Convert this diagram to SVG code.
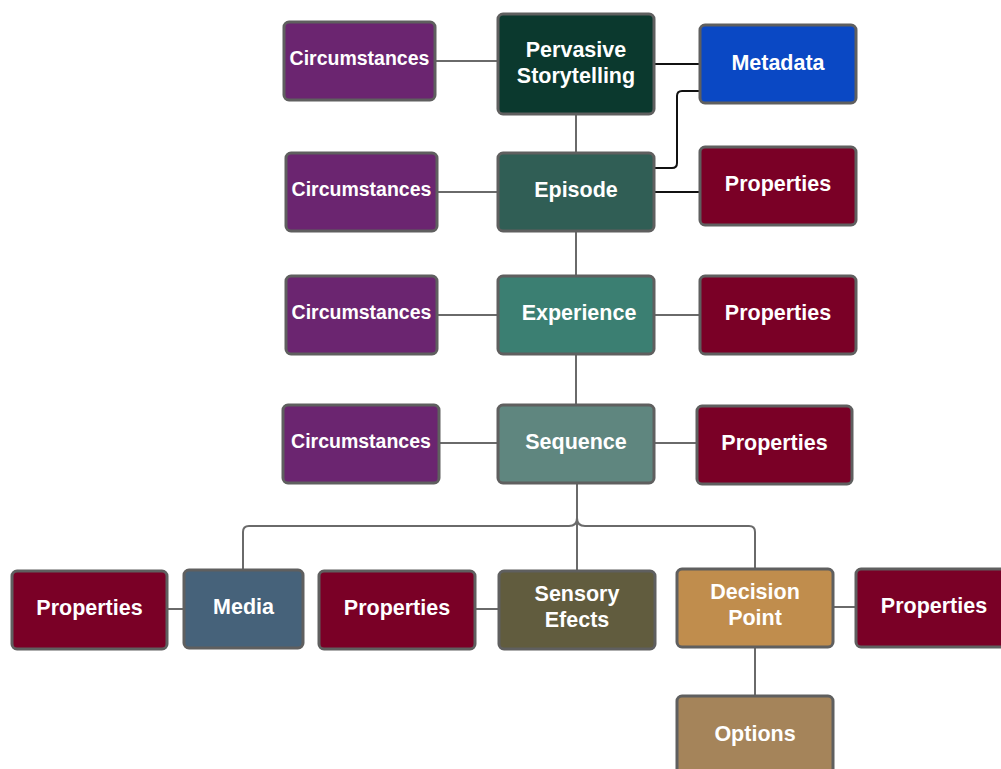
<svg xmlns="http://www.w3.org/2000/svg" width="1001" height="769" viewBox="0 0 1001 769">
  <style>
    .box { stroke: #5f5f5f; stroke-width: 3; }
    .lbl { font-family: "Liberation Sans", Arial, sans-serif; font-weight: bold; fill: #ffffff; text-anchor: middle; dominant-baseline: central; font-size: 21.5px; }
    .sm { font-size: 19.5px; }
    .wire { fill: none; stroke: #6a6a6a; stroke-width: 2; }
    .dark { fill: none; stroke: #111111; stroke-width: 2; }
    .circ { fill: #6b2570; }
    .prop { fill: #7a0026; }
  </style>
  <rect width="1001" height="769" fill="#ffffff"/>

  <!-- connectors -->
  <g id="connectors">
    <path class="wire" d="M435 61 H498"/>
    <path class="dark" d="M654 64 H700"/>
    <path class="dark" d="M654 168 H672 Q677 168 677 163 V96 Q677 91 682 91 H700"/>
    <path class="wire" d="M576 114 V153"/>
    <path class="wire" d="M437 192 H498"/>
    <path class="dark" d="M654 192 H700"/>
    <path class="wire" d="M576 231 V276"/>
    <path class="wire" d="M437 315 H498"/>
    <path class="wire" d="M654 315 H700"/>
    <path class="wire" d="M576 354 V405"/>
    <path class="wire" d="M439 443 H498"/>
    <path class="wire" d="M654 443 H697"/>
    <path class="wire" d="M577 483 V571"/>
    <path class="wire" d="M577 518 Q577 526 569 526 H249 Q243 526 243 532 V570"/>
    <path class="wire" d="M577 518 Q577 526 585 526 H749 Q755 526 755 532 V569"/>
    <path class="wire" d="M167 609 H184"/>
    <path class="wire" d="M475 609 H499"/>
    <path class="wire" d="M833 607 H856"/>
    <path class="wire" d="M755 647 V696"/>
  </g>

  <g id="pervasive">
    <rect class="box" x="498" y="14" width="156" height="100" rx="5" fill="#0b392e"/>
    <text class="lbl" x="576" y="50">Pervasive</text>
    <text class="lbl" x="576" y="76">Storytelling</text>
  </g>
  <g id="metadata">
    <rect class="box" x="700" y="25" width="156" height="78" rx="5" fill="#0a48c4"/>
    <text class="lbl" x="778" y="63">Metadata</text>
  </g>
  <g id="circ1">
    <rect class="box circ" x="284" y="22" width="151" height="78" rx="5"/>
    <text class="lbl sm" x="359.5" y="58">Circumstances</text>
  </g>

  <g id="episode">
    <rect class="box" x="498" y="153" width="156" height="78" rx="5" fill="#305e55"/>
    <text class="lbl" x="576" y="190">Episode</text>
  </g>
  <g id="circ2">
    <rect class="box circ" x="286" y="153" width="151" height="78" rx="5"/>
    <text class="lbl sm" x="361.5" y="189">Circumstances</text>
  </g>
  <g id="prop1">
    <rect class="box prop" x="700" y="147" width="156" height="78" rx="5"/>
    <text class="lbl" x="778" y="184">Properties</text>
  </g>

  <g id="experience">
    <rect class="box" x="498" y="276" width="156" height="78" rx="5" fill="#3b7f72"/>
    <text class="lbl" x="579" y="313">Experience</text>
  </g>
  <g id="circ3">
    <rect class="box circ" x="286" y="276" width="151" height="78" rx="5"/>
    <text class="lbl sm" x="361.5" y="312">Circumstances</text>
  </g>
  <g id="prop2">
    <rect class="box prop" x="700" y="276" width="156" height="78" rx="5"/>
    <text class="lbl" x="778" y="313">Properties</text>
  </g>

  <g id="sequence">
    <rect class="box" x="498" y="405" width="156" height="78" rx="5" fill="#5f867f"/>
    <text class="lbl" x="576" y="442">Sequence</text>
  </g>
  <g id="circ4">
    <rect class="box circ" x="283" y="405" width="156" height="78" rx="5"/>
    <text class="lbl sm" x="361" y="441">Circumstances</text>
  </g>
  <g id="prop3">
    <rect class="box prop" x="697" y="406" width="155" height="78" rx="5"/>
    <text class="lbl" x="774.5" y="443">Properties</text>
  </g>

  <g id="prop-media">
    <rect class="box prop" x="12" y="571" width="155" height="78" rx="5"/>
    <text class="lbl" x="89.5" y="608">Properties</text>
  </g>
  <g id="media">
    <rect class="box" x="184" y="570" width="119" height="78" rx="5" fill="#46627a"/>
    <text class="lbl" x="243.5" y="607">Media</text>
  </g>
  <g id="prop-sensory">
    <rect class="box prop" x="319" y="571" width="156" height="78" rx="5"/>
    <text class="lbl" x="397" y="608">Properties</text>
  </g>
  <g id="sensory">
    <rect class="box" x="499" y="571" width="156" height="78" rx="5" fill="#615c3e"/>
    <text class="lbl" x="577" y="594">Sensory</text>
    <text class="lbl" x="577" y="620">Efects</text>
  </g>
  <g id="decision">
    <rect class="box" x="677" y="569" width="156" height="78" rx="5" fill="#c08d4d"/>
    <text class="lbl" x="755" y="592">Decision</text>
    <text class="lbl" x="755" y="618">Point</text>
  </g>
  <g id="prop-decision">
    <rect class="box prop" x="856" y="569" width="156" height="78" rx="5"/>
    <text class="lbl" x="934" y="606">Properties</text>
  </g>
  <g id="options">
    <rect class="box" x="677" y="696" width="156" height="90" rx="5" fill="#a5845a"/>
    <text class="lbl" x="755" y="734">Options</text>
  </g>
</svg>
